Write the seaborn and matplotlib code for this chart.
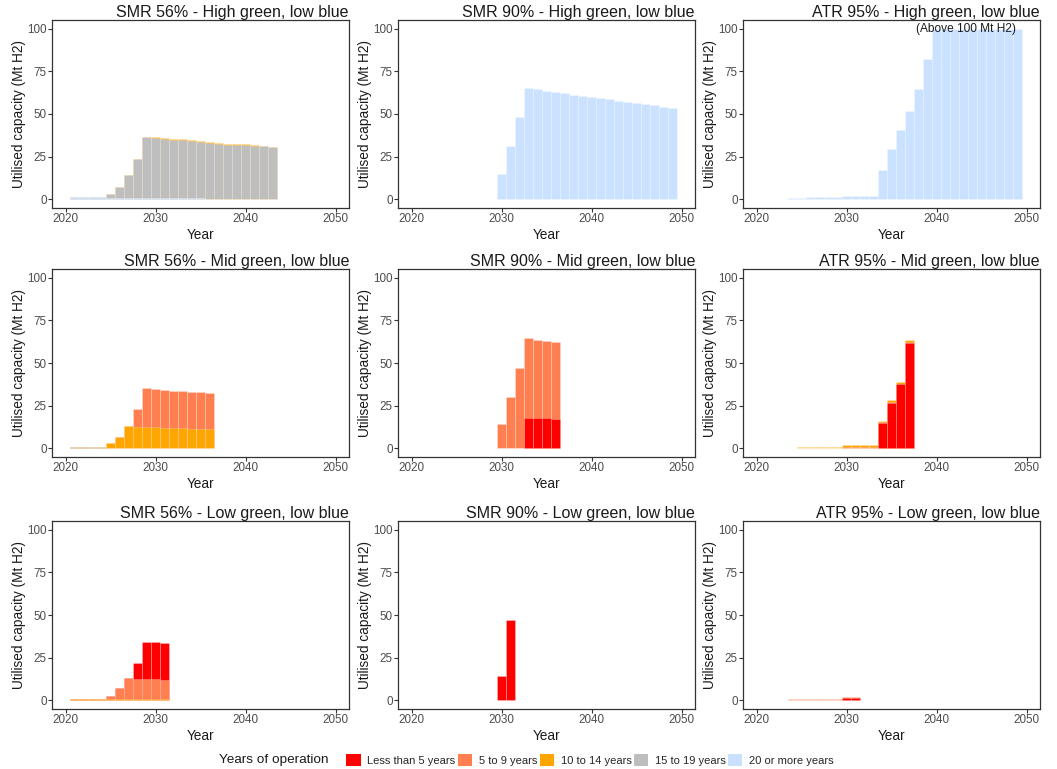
import numpy as np
import matplotlib
matplotlib.use("Agg")
import matplotlib.pyplot as plt
from matplotlib.patches import Patch
import seaborn as sns

# ---------------------------------------------------------------------------
# Age classes and their fill colours
# ---------------------------------------------------------------------------
AGE_LEVELS = ["Less than 5 years", "5 to 9 years", "10 to 14 years",
              "15 to 19 years", "20 or more years"]
AGE_COLOURS = ["#FF0000", "#FF7F50", "#FFA500", "#BEBEBE", "#CAE1FF"]
PALETTE = dict(zip(AGE_LEVELS, AGE_COLOURS))

TECHS = ["SMR 56%", "SMR 90%", "ATR 95%"]
SCENARIOS = ["High green, low blue", "Mid green, low blue", "Low green, low blue"]

# ---------------------------------------------------------------------------
# Utilised capacity (Mt H2) by year and age class
# ---------------------------------------------------------------------------
# SMR 56% - High green
smr56_high_years = list(range(2021, 2044))
smr56_high_20plus = [1.2, 1.2, 1.2, 1.2, 0.8, 0.8, 0.8, 0.8, 0.8, 0.8, 0.8, 0.8,
                     0.8, 0.8, 0.8, 0, 0, 0, 0, 0, 0, 0, 0]
smr56_high_15to19 = [0, 0, 0, 0, 2.5, 6.6, 13.4, 22.8, 35.5, 35.1, 34.5, 33.9,
                     33.9, 33.3, 32.7, 33.1, 32.7, 32.1, 32.1, 31.8, 31.4, 31.4, 30.8]
smr56_high_10to14 = [0, 0, 0, 0, 0, 0, 0, 0, 0, 0.6, 0.6, 0.6,
                     0.6, 0.6, 0.6, 0.6, 0.6, 0.6, 0.6, 0.6, 0.6, 0, 0]

# SMR 90% - High green
smr90_high_years = list(range(2030, 2050))
smr90_high_20plus = [15.0, 31.2, 48.3, 65.1, 64.5, 63.5, 63.0, 62.2, 61.4, 60.6,
                     60.0, 59.1, 58.5, 57.7, 57.1, 56.5, 55.6, 55.0, 54.2, 53.6]

# ATR 95% - High green (values from 2040 on exceed the 100 Mt axis limit)
atr95_high_years = list(range(2024, 2050))
atr95_high_20plus = [0.7, 0.7, 1.2, 1.2, 1.2, 1.2, 2.3, 2.3, 2.3, 2.3, 17.0, 29.6,
                     40.9, 51.5, 64.5, 82.0, 100, 100, 100, 100, 100, 100, 100,
                     100, 100, 100]

# SMR 56% - Mid green
smr56_mid_years = list(range(2021, 2037))
smr56_mid_15to19 = [1.0, 1.0, 1.0, 1.0, 0, 0, 0, 0, 0, 0, 0, 0, 0, 0, 0, 0]
smr56_mid_10to14 = [0, 0, 0, 0, 2.9, 6.7, 13.1, 12.6, 12.6, 12.3, 12.0, 12.0,
                    11.8, 11.6, 11.6, 11.4]
smr56_mid_5to9 = [0, 0, 0, 0, 0, 0, 0, 10.3, 22.5, 22.6, 22.3, 21.7,
                  21.9, 21.7, 21.3, 21.1]

# SMR 90% - Mid green
smr90_mid_years = list(range(2030, 2037))
smr90_mid_lt5 = [0, 0, 0, 18.0, 17.6, 17.6, 17.2]
smr90_mid_5to9 = [14.3, 30.2, 47.3, 46.5, 46.1, 45.1, 44.8]

# ATR 95% - Mid green
atr95_mid_years = list(range(2025, 2038))
atr95_mid_lt5 = [0, 0, 0, 0, 0, 0, 0, 0, 0, 15.0, 26.5, 37.5, 61.6]
atr95_mid_5to9 = [0, 0, 0, 0, 0, 1.0, 1.0, 1.0, 1.0, 0.4, 0.4, 0.4, 0.4]
atr95_mid_10to14 = [0.7, 1.1, 1.1, 1.1, 1.1, 1.2, 1.2, 1.2, 1.2, 0.7, 1.4, 1.2, 1.4]

# SMR 56% - Low green
smr56_low_years = list(range(2021, 2032))
smr56_low_10to14 = [1.0, 1.0, 1.0, 1.0, 0.6, 0.6, 0.6, 0.6, 0.6, 0.6, 0.6]
smr56_low_5to9 = [0, 0, 0, 0, 2.1, 6.7, 12.7, 11.9, 11.9, 11.9, 11.6]
smr56_low_lt5 = [0, 0, 0, 0, 0, 0, 0, 9.7, 21.6, 21.6, 21.5]

# SMR 90% - Low green
smr90_low_years = [2030, 2031]
smr90_low_lt5 = [14.3, 47.1]

# ATR 95% - Low green
atr95_low_years = list(range(2024, 2032))
atr95_low_lt5 = [0, 0, 0, 0, 0, 0, 1.6, 1.6]
atr95_low_5to9 = [0.7, 0.7, 1.1, 1.1, 1.1, 1.1, 0.7, 0.7]

# Panels: (row, col) -> years and stack layers listed bottom to top
PANELS = {
    (0, 0): (smr56_high_years, [("20 or more years", smr56_high_20plus),
                                ("15 to 19 years", smr56_high_15to19),
                                ("10 to 14 years", smr56_high_10to14)]),
    (0, 1): (smr90_high_years, [("20 or more years", smr90_high_20plus)]),
    (0, 2): (atr95_high_years, [("20 or more years", atr95_high_20plus)]),
    (1, 0): (smr56_mid_years, [("15 to 19 years", smr56_mid_15to19),
                               ("10 to 14 years", smr56_mid_10to14),
                               ("5 to 9 years", smr56_mid_5to9)]),
    (1, 1): (smr90_mid_years, [("Less than 5 years", smr90_mid_lt5),
                               ("5 to 9 years", smr90_mid_5to9)]),
    (1, 2): (atr95_mid_years, [("Less than 5 years", atr95_mid_lt5),
                               ("5 to 9 years", atr95_mid_5to9),
                               ("10 to 14 years", atr95_mid_10to14)]),
    (2, 0): (smr56_low_years, [("10 to 14 years", smr56_low_10to14),
                               ("5 to 9 years", smr56_low_5to9),
                               ("Less than 5 years", smr56_low_lt5)]),
    (2, 1): (smr90_low_years, [("Less than 5 years", smr90_low_lt5)]),
    (2, 2): (atr95_low_years, [("Less than 5 years", atr95_low_lt5),
                               ("5 to 9 years", atr95_low_5to9)]),
}

# ---------------------------------------------------------------------------
# Style
# ---------------------------------------------------------------------------
sns.set_theme(style="white")
plt.rcParams["font.family"] = ["Liberation Sans", "DejaVu Sans"]
plt.rcParams["axes.edgecolor"] = "#333333"
plt.rcParams["axes.linewidth"] = 0.8

TICK_COLOUR = "#4D4D4D"
EDGE = (1, 1, 1, 0.35)

W, H = 1057, 769
fig = plt.figure(figsize=(W / 100, H / 100), dpi=100)

col_left = [52, 398, 743]
row_top = [20, 269, 521]
ax_w, ax_h = 297, 188


def stacked_bars(ax, years, layers):
    """Stack the layers by overdrawing cumulative totals, top layer first."""
    running = np.zeros(len(years))
    totals = []
    for level, vals in layers:
        running = running + np.asarray(vals, dtype=float)
        totals.append((level, running.copy()))
    for level, tops in reversed(totals):
        sns.barplot(x=np.asarray(years), y=tops, native_scale=True,
                    color=PALETTE[level], saturation=1, width=0.93,
                    edgecolor=EDGE, linewidth=0.45, errorbar=None, ax=ax)


for r, scen in enumerate(SCENARIOS):
    for c, tech in enumerate(TECHS):
        left = col_left[c] / W
        bottom = 1 - (row_top[r] + ax_h) / H
        ax = fig.add_axes([left, bottom, ax_w / W, ax_h / H])
        years, layers = PANELS[(r, c)]
        stacked_bars(ax, years, layers)

        ax.set_xlim(2018.5, 2051.5)
        ax.set_ylim(-5, 105)
        ax.set_xticks([2020, 2030, 2040, 2050])
        ax.set_yticks([0, 25, 50, 75, 100])
        ax.tick_params(axis="both", direction="out", length=2.75, width=0.8,
                       color="#333333", labelsize=8.4, labelcolor=TICK_COLOUR,
                       pad=1.2, bottom=True, left=True)
        for sp in ax.spines.values():
            sp.set_visible(True)
            sp.set_color("#333333")
            sp.set_linewidth(0.9)
        ax.grid(False)
        ax.set_xlabel("Year", fontsize=9.8, color="#1a1a1a", labelpad=1.5)
        ax.set_ylabel("Utilised capacity (Mt H2)", fontsize=9.8,
                      color="#1a1a1a", labelpad=0.5)
        ax.set_title(f"{tech} - {scen}", loc="right", pad=2,
                     fontsize=11.5, color="#1a1a1a")

        if (r, c) == (0, 2):
            ax.text(2043.3, 100, "(Above 100 Mt H2)", ha="center",
                    va="center", fontsize=8.6, color="#1a1a1a")

# Shared legend along the bottom
handles = [Patch(facecolor=PALETTE[l], edgecolor="none") for l in AGE_LEVELS]
fig.text(219 / W, 1 - 760 / H, "Years of operation", ha="left", va="center",
         fontsize=9.7, color="#1a1a1a")
fig.legend(handles, AGE_LEVELS, loc="center",
           bbox_to_anchor=(590 / W, 1 - 760 / H), ncol=5, frameon=False,
           fontsize=8.0, handlelength=1.3, handleheight=1.3,
           handletextpad=0.6, columnspacing=0.2, borderpad=0,
           borderaxespad=0)

fig.savefig("out.png", dpi=100, facecolor="white")
